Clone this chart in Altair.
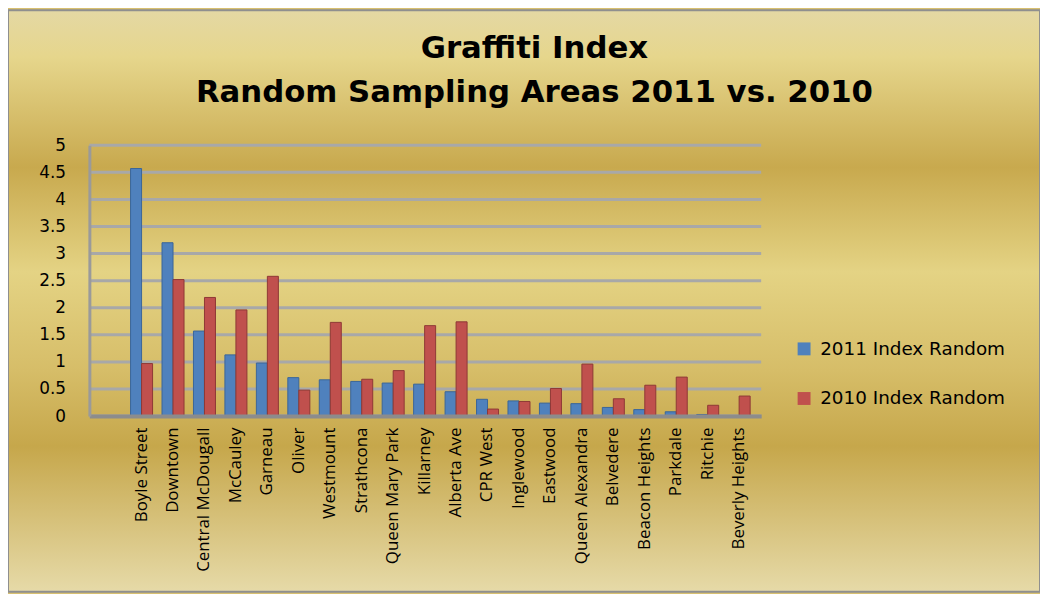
import altair as alt
import pandas as pd

categories = ["Boyle Street", "Downtown", "Central McDougall", "McCauley", "Garneau",
              "Oliver", "Westmount", "Strathcona", "Queen Mary Park", "Killarney",
              "Alberta Ave", "CPR West", "Inglewood", "Eastwood", "Queen Alexandra",
              "Belvedere", "Beacon Heights", "Parkdale", "Ritchie", "Beverly Heights"]
index_2011 = [4.57, 3.2, 1.57, 1.13, 0.98, 0.71, 0.67, 0.64, 0.61, 0.59,
              0.45, 0.31, 0.28, 0.24, 0.23, 0.16, 0.12, 0.08, 0.03, 0.01]
index_2010 = [0.97, 2.52, 2.19, 1.96, 2.58, 0.48, 1.73, 0.68, 0.84, 1.67,
              1.74, 0.13, 0.27, 0.51, 0.96, 0.32, 0.57, 0.72, 0.2, 0.37]
series_names = ["2011 Index Random", "2010 Index Random"]
series_colors = ["#4F81BD", "#C0504D"]
y_ticks = [0, 0.5, 1, 1.5, 2, 2.5, 3, 3.5, 4, 4.5, 5]
title_lines = ["Graffiti Index", "Random Sampling Areas 2011 vs. 2010"]

W, H = 677, 273
PAD = {"left": 82, "top": 136, "right": 281, "bottom": 177}

rows = []
for c, a, b in zip(categories, index_2011, index_2010):
    rows.append({"area": c, "series": series_names[0], "value": a})
    rows.append({"area": c, "series": series_names[1], "value": b})
df = pd.DataFrame(rows)

grad = alt.LinearGradient(
    gradient="linear", x1=0, y1=0, x2=0, y2=1,
    stops=[
        alt.GradientStop(color="#E4D8A4", offset=0),
        alt.GradientStop(color="#E6D68C", offset=0.08),
        alt.GradientStop(color="#C8A94E", offset=0.27),
        alt.GradientStop(color="#E4D384", offset=0.45),
        alt.GradientStop(color="#D6BD68", offset=0.62),
        alt.GradientStop(color="#C6A74B", offset=0.75),
        alt.GradientStop(color="#E6DAA8", offset=1),
    ],
)

bg = alt.Chart(pd.DataFrame({"k": [0]})).mark_rect(
    color=grad, stroke="#8F8F8F", strokeWidth=2
).encode(
    x=alt.value(-PAD["left"]), x2=alt.value(W + PAD["right"]),
    y=alt.value(-PAD["top"]), y2=alt.value(H + PAD["bottom"]),
)

yscale = alt.Scale(domain=[0, 5])
y_axis = alt.Axis(title=None, values=y_ticks, format="~g", ticks=False,
                  labelPadding=24, labelFontSize=17, labelFont="DejaVu Sans",
                  labelColor="black", domainColor="#9A9A9A", domainWidth=3,
                  grid=False, labelOverlap=False, zindex=1)

grid = alt.Chart(pd.DataFrame({"v": y_ticks})).mark_rule(
    color="#A8A8A8", strokeWidth=3
).encode(y=alt.Y("v:Q", scale=yscale, axis=y_axis, title=None))

bars = alt.Chart(df).mark_bar(strokeWidth=1).encode(
    x=alt.X("area:N", sort=categories,
            scale=alt.Scale(paddingInner=0.3, paddingOuter=0.83, align=0.789),
            axis=alt.Axis(title=None, labelAngle=270, labelPadding=11, ticks=False,
                          domainColor="#8C8C8C", domainWidth=4, labelFontSize=17,
                          labelFont="Open Sans", labelColor="black", grid=False,
                          labelOverlap=False, zindex=1)),
    xOffset=alt.XOffset("series:N", sort=series_names),
    y=alt.Y("value:Q", scale=yscale, axis=y_axis, title=None),
    color=alt.Color("series:N",
                    scale=alt.Scale(domain=series_names, range=series_colors),
                    legend=alt.Legend(orient="none", legendX=711, legendY=196, title=None,
                                      symbolType="square", symbolSize=169,
                                      symbolStrokeWidth=0, labelFontSize=18.5,
                                      labelFont="DejaVu Sans", labelColor="black",
                                      labelOffset=7, rowPadding=31, padding=0,
                                      labelLimit=400, zindex=1)),
    stroke=alt.Stroke("series:N",
                      scale=alt.Scale(domain=series_names, range=["#3A6699", "#8E3835"]),
                      legend=None),
)

chart = alt.layer(bg, grid, bars).properties(
    width=W, height=H,
    autosize=alt.AutoSizeParams(type="none"),
    padding=PAD,
    background="#D8C070",
    title=alt.TitleParams(title_lines, font="DejaVu Sans", fontSize=31, fontWeight="bold",
                          color="black", anchor="middle", dx=110, lineHeight=44,
                          baseline="alphabetic", offset=-124, zindex=1),
).configure_view(strokeWidth=0)

chart.save("out.html", embed_options={"renderer": "svg", "actions": False})
